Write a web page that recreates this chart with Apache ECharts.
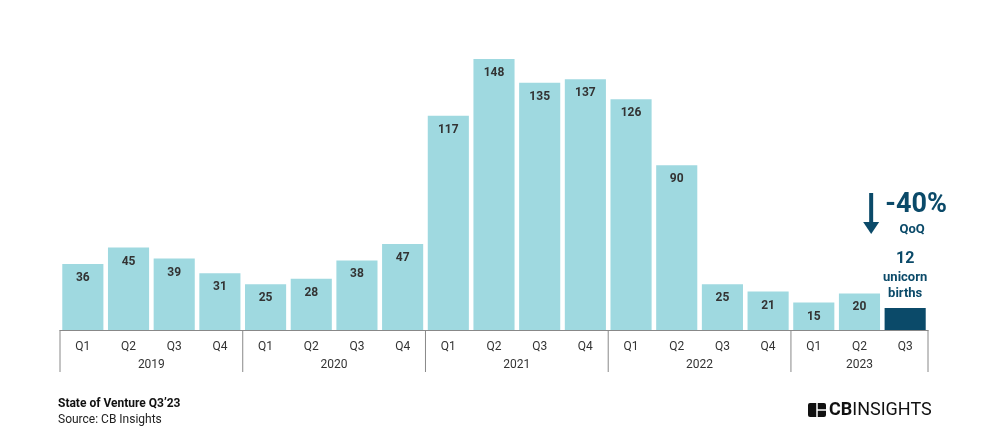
<!DOCTYPE html>
<html><head><meta charset="utf-8">
<script src="https://cdn.jsdelivr.net/npm/echarts@6/dist/echarts.min.js"></script>
<style>html,body{margin:0;padding:0;background:#fff}#c{width:992px;height:441px}</style>
</head><body><div id="c"></div>
<script>
const quarters = ['Q1','Q2','Q3','Q4','Q1','Q2','Q3','Q4','Q1','Q2','Q3','Q4','Q1','Q2','Q3','Q4','Q1','Q2','Q3'];
const years = ['2019','2020','2021','2022','2023'];
const yearSpans = [4,4,4,4,3];
const values = [36,45,39,31,25,28,38,47,117,148,135,137,126,90,25,21,15,20,12];
const changeText = '-40%';
const changeSub = 'QoQ';
const lastNote = ['unicorn','births'];

const LIGHT = '#9fd9e0', DARK = '#0b4a69', TXT = '#333';
const chart = echarts.init(document.getElementById('c'));
const last = values.length - 1;
const seriesData = values.map((v,i)=> i===last ? {
  value:v, itemStyle:{color:DARK},
  label:{position:'top',distance:6,formatter:'{a|'+v+'}\n{b|'+lastNote.join('\n')+'}',
    rich:{a:{fontSize:16,fontWeight:'bold',color:DARK,lineHeight:22,fontFamily:'Roboto'},
          b:{fontSize:13,fontWeight:'bold',color:DARK,lineHeight:16,fontFamily:'Roboto'}}}
} : v);

chart.setOption({
  animation:false,
  grid:{left:60,right:64,top:59,bottom:111},
  xAxis:{type:'category',data:quarters,
    axisLine:{show:true,lineStyle:{color:'#888',width:1}},
    axisTick:{show:false},
    axisLabel:{color:TXT,fontSize:12,fontFamily:'Roboto',margin:11}},
  yAxis:{type:'value',min:0,max:148,show:false,splitLine:{show:false}},
  series:[{type:'bar',data:seriesData,barCategoryGap:'10%',
    itemStyle:{color:LIGHT},
    label:{show:true,position:'insideTop',distance:8,color:TXT,fontSize:12,fontWeight:'bold',fontFamily:'Roboto'}}]
});

const px = i => chart.convertToPixel({xAxisIndex:0,yAxisIndex:0},[i,0]);
const yBase = px(0)[1];
const half = (px(1)[0]-px(0)[0])/2;
const g = [];
let start = 0;
years.forEach((y,k)=>{
  const end = start + yearSpans[k] - 1;
  const x0 = px(start)[0]-half, x1 = px(end)[0]+half;
  g.push({type:'line',shape:{x1:x0,y1:yBase,x2:x0,y2:yBase+42},style:{stroke:'#888',lineWidth:1}});
  if(k===years.length-1) g.push({type:'line',shape:{x1:x1,y1:yBase,x2:x1,y2:yBase+42},style:{stroke:'#888',lineWidth:1}});
  g.push({type:'text',x:(x0+x1)/2,y:yBase+35,style:{text:y,fill:TXT,font:'12px Roboto',textAlign:'center',textVerticalAlign:'middle'}});
  start = end+1;
});
// change annotation
const lx = px(last)[0];
const ax = lx - 34, aTop = 193, aBot = 234;
g.push({type:'line',shape:{x1:ax,y1:aTop,x2:ax,y2:aBot-10},style:{stroke:DARK,lineWidth:4}});
g.push({type:'polygon',shape:{points:[[ax-8,aBot-12],[ax+8,aBot-12],[ax,aBot]]},style:{fill:DARK}});
g.push({type:'text',x:lx+11,y:205,style:{text:changeText,fill:DARK,font:'bold 27px Roboto',textAlign:'center',textVerticalAlign:'middle'}});
g.push({type:'text',x:lx+7,y:230,style:{text:changeSub,fill:DARK,font:'bold 13px Roboto',textAlign:'center',textVerticalAlign:'middle'}});
// footer
g.push({type:'text',left:58,top:398,style:{text:'State of Venture Q3’23',fill:'#111',font:'bold 12px Roboto'}});
g.push({type:'text',left:58,top:414,style:{text:'Source: CB Insights',fill:'#222',font:'12px Roboto'}});
// logo
g.push({type:'rect',shape:{x:808,y:403,width:18,height:14,r:2},style:{fill:'#111'}});
g.push({type:'line',shape:{x1:817,y1:403,x2:817,y2:417},style:{stroke:'#fff',lineWidth:1.5}});
g.push({type:'line',shape:{x1:817,y1:410,x2:826,y2:410},style:{stroke:'#fff',lineWidth:1.5}});
g.push({type:'text',left:829,top:401,style:{text:'{a|CB}{b|INSIGHTS}',rich:{a:{font:'bold 18px Roboto',fill:'#111'},b:{font:'18px Roboto',fill:'#111'}}}});
chart.setOption({graphic:g});
</script></body></html>
